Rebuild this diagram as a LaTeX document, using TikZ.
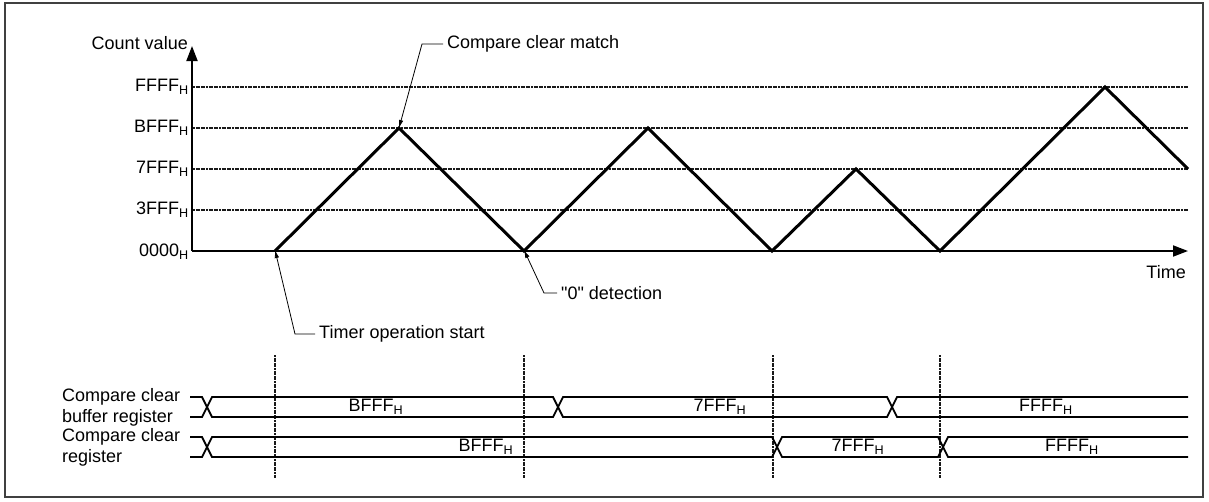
\documentclass[tikz,border=0pt]{standalone}
\usepackage{fontspec}
\setmainfont{Liberation Sans}
\usetikzlibrary{arrows.meta, positioning, calc}
\newcommand{\hexval}[1]{#1\textsubscript{H}}

\begin{document}
\begin{tikzpicture}[
    x=1pt, y=-1pt,
    every node/.style={font=\fontsize{18}{21}\selectfont, inner sep=0pt},
    frame/.style={draw=black!75, line width=1.2pt},
    axis/.style={line width=1.8pt, -{Triangle[length=15pt, width=11pt]}},
    level/.style={line width=2pt, draw=black!90, dash pattern=on 2pt off 0.6pt},
    marker/.style={line width=2pt, draw=black!90, dash pattern=on 2pt off 0.6pt},
    wave/.style={line width=3pt, line join=miter},
    bus/.style={line width=1.8pt},
    note/.style={anchor=west, inner xsep=4pt},
    leader/.style={line width=0.8pt, -{Latex[length=8pt, width=4.5pt]}}
]
\useasboundingbox (0,0) rectangle (1209,501);
\draw [frame] (5,3) rectangle (1203,497);

% Axes
\coordinate (origin) at (192,251);
\coordinate (ytip) at (192,46);
\coordinate (xtip) at (1188,251);
\draw [axis] (origin) -- (ytip);
\draw [axis] (origin) -- (xtip);
\node (ylabel) [anchor=east] at (188,43) {Count value};
\node (xlabel) [anchor=east] at (1186,272) {Time};
\node (lv0000) [anchor=east] at (189,252) {\hexval{0000}};

% Levels
\foreach \lv/\yy in {FFFF/87, BFFF/128, 7FFF/169, 3FFF/210} {
    \node (lv\lv) [anchor=east] at (189,\yy) {\hexval{\lv}};
    \coordinate (gs\lv) at (193,\yy);
    \coordinate (ge\lv) at (1188,\yy);
    \draw [level] (gs\lv) -- (ge\lv);
}

% Counter
\foreach \n/\xx/\yy in {0/275/251, 1/399/128, 2/524/251, 3/648/128, 4/772/251,
                        5/856/169, 6/940/251, 7/1105/87, 8/1188/169}
    \coordinate (w\n) at (\xx,\yy);
\draw [wave] (w0) -- (w1) -- (w2) -- (w3) -- (w4) -- (w5) -- (w6) -- (w7) -- (w8);

% Notes
\node (cmatch) [note] at (443,44) {Compare clear match};
\coordinate (cmknee) at (422,44);
\draw [leader] (cmatch.west) -- (cmknee) -- (w1);

\node (zdet) [note] at (557,293) {\textquotedbl 0\textquotedbl{} detection};
\coordinate (zknee) at (544,293);
\draw [leader] (zdet.west) -- (zknee) -- ([yshift=1pt]w2);

\node (tstart) [note] at (315,334) {Timer operation start};
\coordinate (tknee) at (295,334);
\draw [leader] (tstart.west) -- (tknee) -- ([yshift=1pt]w0);

% Timing markers
\foreach \xx [count=\i] in {275,524,773,940} {
    \coordinate (mt\i) at (\xx,355);
    \coordinate (mb\i) at (\xx,478);
    \draw [marker] (mt\i) -- (mb\i);
}

% Registers
\node (bufname) [anchor=west, align=left] at (62,407) {Compare clear\\buffer register};
\node (regname) [anchor=west, align=left] at (62,447) {Compare clear\\register};

\draw [bus] (190,397) -- (202,397) -- (212,417) -- (553,417) -- (563,397) -- (887,397) -- (897,417) -- (1188,417);
\draw [bus] (190,417) -- (202,417) -- (212,397) -- (553,397) -- (563,417) -- (887,417) -- (897,397) -- (1188,397);
\draw [bus] (190,437) -- (202,437) -- (212,457) -- (772,457) -- (782,437) -- (938,437) -- (948,457) -- (1188,457);
\draw [bus] (190,457) -- (202,457) -- (212,437) -- (772,437) -- (782,457) -- (938,457) -- (948,437) -- (1188,437);

\node (bufv1) at (376,407) {\hexval{BFFF}};
\node (bufv2) at (720,407) {\hexval{7FFF}};
\node (bufv3) at (1046,407) {\hexval{FFFF}};
\node (regv1) at (486,447) {\hexval{BFFF}};
\node (regv2) at (858,447) {\hexval{7FFF}};
\node (regv3) at (1072,447) {\hexval{FFFF}};

\end{tikzpicture}
\end{document}
